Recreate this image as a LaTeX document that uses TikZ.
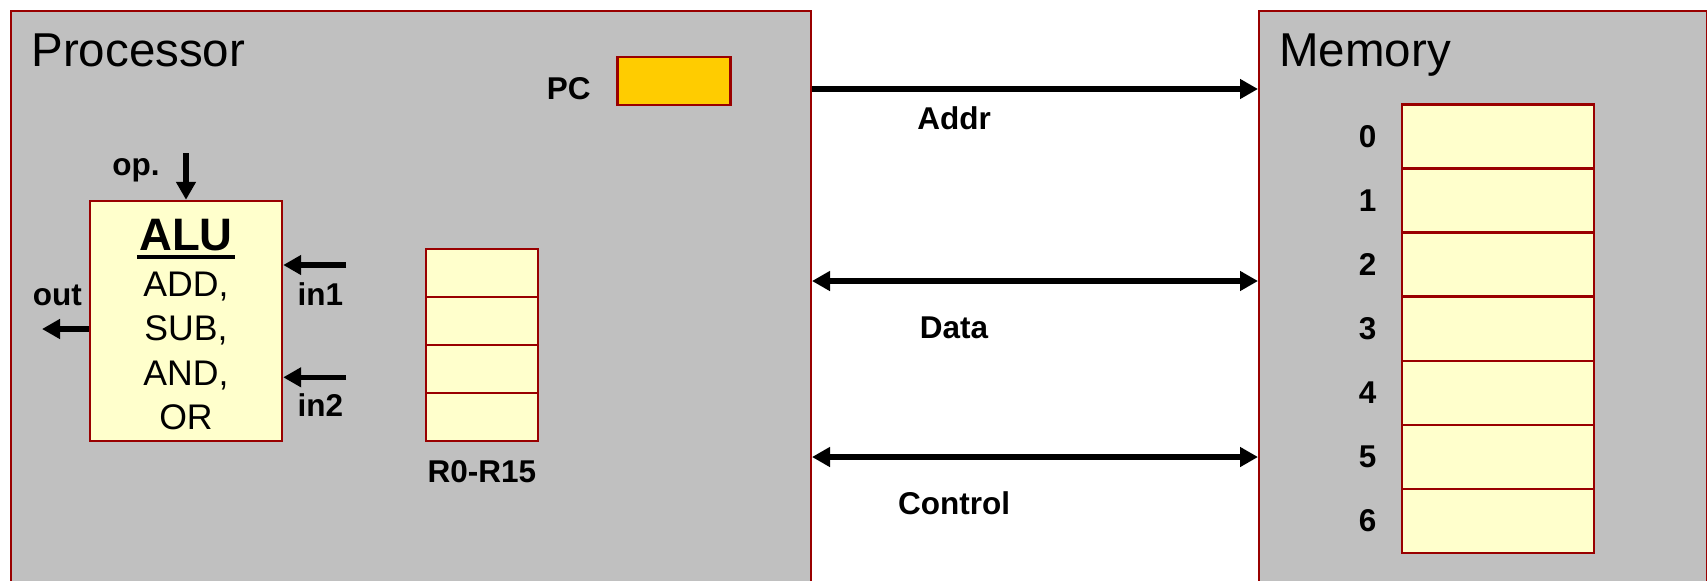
\documentclass[tikz,border=0pt]{standalone}
\usepackage{fontspec}
\setmainfont{Liberation Sans}
\usetikzlibrary{arrows.meta}
\usetikzlibrary{positioning}

\definecolor{boxgray}{HTML}{C0C0C0}
\definecolor{edgered}{HTML}{990000}
\definecolor{cellyellow}{HTML}{FFFFCC}
\definecolor{pcgold}{HTML}{FFCC00}

\tikzset{
  unit/.style={rectangle, draw=edgered, line width=1pt, fill=boxgray, inner sep=0pt},
  cell/.style={rectangle, draw=edgered, line width=1.2pt, fill=cellyellow, inner sep=0pt},
  lbl/.style={inner sep=0pt, font=\fontsize{15.75}{19}\selectfont\bfseries},
  ttl/.style={inner sep=0pt, font=\fontsize{23.75}{28}\selectfont},
  bus/.style={line width=2.6pt, -{Triangle[length=9pt,width=9.5pt]}},
  dbus/.style={line width=2.6pt, {Triangle[length=9pt,width=9.5pt]}-{Triangle[length=9pt,width=9.5pt]}}
}

\begin{document}
\begin{tikzpicture}[x=0.5pt,y=-0.5pt]
      \useasboundingbox (0,0) rectangle (1707,580);
      \clip (0,0) rectangle (1707,580);
      % processor and memory
      \node[unit, anchor=north west, minimum width=400.25pt, minimum height=320pt] (proc) at (9.5,9.5) {};
      \node[unit, anchor=north west, minimum width=224pt, minimum height=320pt] (mem) at (1258,9.5) {};
      \node[ttl, anchor=base west] (proctitle) at (31,66.6) {Processor};
      \node[ttl, anchor=base west] (memtitle) at (1279,66.6) {Memory};
      % program counter
      \node[cell, fill=pcgold, minimum width=56.5pt, minimum height=24.15pt] (pc) at (673.8,80.9) {};
      \node[lbl, anchor=base east] (pclbl) at (591,99) {PC};
      % ALU
      \node[cell, minimum width=96pt, minimum height=120pt] (alu) at (186,321) {};
      \node[anchor=base, inner sep=0pt, font=\fontsize{22.75}{27}\selectfont\bfseries] (alut) at (186,250) {ALU};
      \draw[line width=2pt] ([shift={(-1pt,-3.6pt)}]alut.base west) -- ([shift={(1pt,-3.6pt)}]alut.base east);
      \foreach \op [count=\k from 0] in {{ADD,},{SUB,},{AND,},OR}
            \node[anchor=base, inner sep=0pt, font=\fontsize{17.8}{21}\selectfont] (aluop\k) at (186,{296+44.6*\k}) {\op};
      \coordinate (opsrc) at (186,153);
      \coordinate (in1src) at (346,265);
      \coordinate (in2src) at (346,377.3);
      \coordinate (outdst) at (42,329);
      \draw[bus] (opsrc) -- (alu.north);
      \draw[bus] (in1src) -- (in1src -| alu.east);
      \draw[bus] (in2src) -- (in2src -| alu.east);
      \draw[bus] (alu.west |- outdst) -- (outdst);
      \node[lbl, anchor=base east] (oplbl) at (160,175) {op.};
      \node[lbl, anchor=base] (in1lbl) at (320.4,305) {in1};
      \node[lbl, anchor=base] (in2lbl) at (320.4,416.7) {in2};
      \node[lbl, anchor=base] (outlbl) at (57.4,305) {out};
      % registers
      \foreach \k in {0,...,3}
            \node[cell, minimum width=56pt, minimum height=24pt] (reg\k) at (482,{272.7+48*\k}) {};
      \node[lbl, below=9pt of reg3] (reglbl) {R0-R15};
      % memory cells
      \foreach \k in {0,...,6} {
            \node[cell, minimum width=96pt, minimum height=32.05pt] (cell\k) at (1498,{136.4+64.1*\k}) {};
            \node[lbl, left=12pt of cell\k] (idx\k) {\k};
      }
      % buses
      \coordinate (addry) at (0,89);
      \coordinate (datay) at (0,281);
      \coordinate (ctrly) at (0,457);
      \draw[bus] (proc.east |- addry) -- (mem.west |- addry);
      \draw[dbus] (proc.east |- datay) -- (mem.west |- datay);
      \draw[dbus] (proc.east |- ctrly) -- (mem.west |- ctrly);
      \node[lbl, anchor=base] (addrlbl) at (954,129.5) {Addr};
      \node[lbl, anchor=base] (datalbl) at (954,338.3) {Data};
      \node[lbl, anchor=base] (ctrllbl) at (954,514.3) {Control};
\end{tikzpicture}
\end{document}
